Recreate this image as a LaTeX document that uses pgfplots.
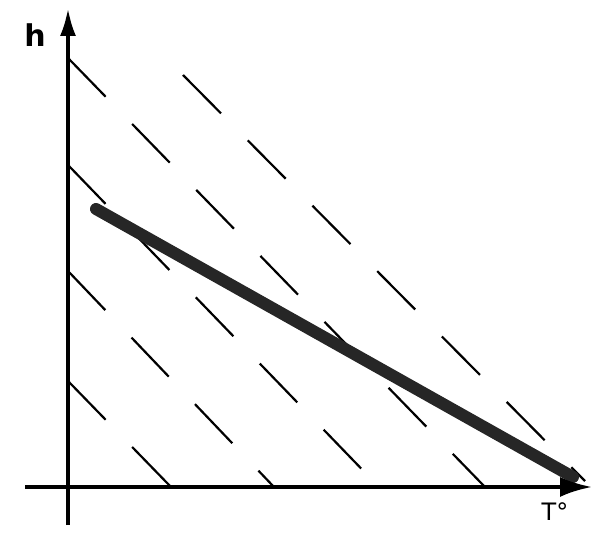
\documentclass[border=0pt]{standalone}
\usepackage{fontspec}
\setmainfont{DejaVu Sans}
\usepackage{pgfplots}
\pgfplotsset{compat=1.18}
\usetikzlibrary{arrows.meta}

\begin{document}
\begin{tikzpicture}
\begin{axis}[
    scale only axis,
    width=602pt, height=533pt,
    xmin=-68, xmax=534,
    ymin=-46, ymax=487,
    axis lines=none,
    clip=false,
]
% invisible frame, keeps the page at the reference's proportions
\path (rel axis cs:0,0) rectangle (rel axis cs:1,1);

% dashed parallel isolines
\pgfplotsset{iso/.style={black, line width=2.2pt, dash pattern=on 54pt off 38pt}}
\addplot[iso] coordinates {(0,106) (103,0)};
\addplot[iso] coordinates {(0,216) (206,0)};
\addplot[iso] coordinates {(0,322) (311,0)};
\addplot[iso] coordinates {(0,429) (417,0)};
\addplot[iso] coordinates {(115,412) (517,6)};

% thick line
\addplot[black!85, line width=12pt, line cap=round] coordinates {(28,278) (505,10)};

% axes
\addplot[black, line width=4pt, -{Latex[length=32pt,width=20pt]}] coordinates {(-43,0) (524,0)};
\addplot[black, line width=4pt, -{Latex[length=28pt,width=16pt]}] coordinates {(0,-38) (0,479)};

\node[font=\fontsize{30}{32}\selectfont\bfseries] at (axis cs:-33,452) {h};
\node[font=\fontsize{24}{26}\selectfont] at (axis cs:487,-25) {T°};
\end{axis}
\end{tikzpicture}
\end{document}
